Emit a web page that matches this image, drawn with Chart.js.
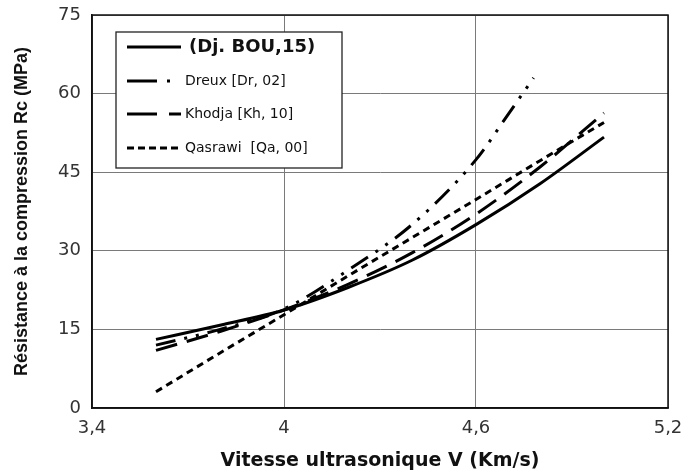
<!DOCTYPE html>
<html>
<head>
<meta charset="utf-8">
<script src="https://cdn.jsdelivr.net/npm/chart.js@4.4.1/dist/chart.umd.min.js"></script>
<style>
  html, body { margin: 0; padding: 0; background: #ffffff; }
  #wrap { width: 685px; height: 472px; }
</style>
</head>
<body>
<div id="wrap"><canvas id="c" width="685" height="472"></canvas></div>
<script>
// ---- data ----
const velocities = [3.6, 3.8, 4.0, 4.2, 4.4, 4.6, 4.8, 5.0];
const bou     = [13.1, 15.8, 18.7, 23.0, 28.2, 35.0, 42.8, 51.7];
const dreuxV  = [3.6, 3.8, 4.0, 4.2, 4.4, 4.6, 4.7, 4.78];
const dreux   = [12.0, 15.0, 18.9, 26.3, 35.0, 47.4, 56.0, 63.0];
const khodja  = [11.0, 14.6, 18.7, 23.6, 29.6, 37.0, 46.0, 56.3];
const qasrawi = [3.1, 10.5, 17.8, 25.2, 32.5, 39.8, 47.2, 54.5];
const seriesLabels = ['(Dj. BOU,15)', 'Dreux [Dr, 02]', 'Khodja [Kh, 10]', 'Qasrawi  [Qa, 00]'];
const xTicks = [3.4, 4.0, 4.6, 5.2];
const yTicks = [0, 15, 30, 45, 60, 75];
const xTitle = 'Vitesse ultrasonique V (Km/s)';
const yTitle = 'Résistance à la compression Rc (MPa)';

const pts = (xs, ys) => xs.map((x, i) => ({ x: x, y: ys[i] }));

const FONT = '"Liberation Sans", Arial, sans-serif';
const WIDE = '"DejaVu Sans", "Liberation Sans", sans-serif';
const legendDash = [[], [30, 10, 3, 100], [30, 12, 12, 100], [7, 4]];

const frameAndLegend = {
  id: 'frameAndLegend',
  afterDatasetsDraw(chart) {
    const ctx = chart.ctx;
    const a = chart.chartArea;
    ctx.save();
    ctx.strokeStyle = '#111';
    ctx.lineWidth = 1.5;
    ctx.strokeRect(a.left, a.top, a.right - a.left, a.bottom - a.top);
    const bx = 116, by = 32, bw = 226, bh = 136;
    ctx.fillStyle = '#fff';
    ctx.fillRect(bx, by, bw, bh);
    ctx.strokeStyle = '#222';
    ctx.lineWidth = 1.3;
    ctx.strokeRect(bx, by, bw, bh);
    const rows = [47, 81, 114, 148];
    chart.data.datasets.forEach((ds, i) => {
      const y = rows[i];
      ctx.beginPath();
      ctx.setLineDash(legendDash[i]);
      ctx.lineWidth = 3.2;
      ctx.strokeStyle = '#000';
      ctx.moveTo(127, y);
      ctx.lineTo(181, y);
      ctx.stroke();
      ctx.setLineDash([]);
      ctx.fillStyle = '#111';
      ctx.textBaseline = 'middle';
      ctx.textAlign = 'left';
      if (i === 0) {
        ctx.font = 'bold 18px ' + WIDE;
        ctx.fillText(ds.label, 189, y);
      } else {
        ctx.font = '14px ' + WIDE;
        ctx.fillText(ds.label, 185, y);
      }
    });
    ctx.restore();
  }
};

new Chart(document.getElementById('c'), {
  type: 'line',
  data: {
    datasets: [
      { label: seriesLabels[0], data: pts(velocities, bou), borderDash: [] },
      { label: seriesLabels[1], data: pts(dreuxV, dreux), borderDash: [20, 9, 3, 9, 3, 9] },
      { label: seriesLabels[2], data: pts(velocities, khodja), borderDash: [22, 10] },
      { label: seriesLabels[3], data: pts(velocities, qasrawi), borderDash: [7, 5] }
    ].map(d => Object.assign(d, { borderColor: '#000', borderWidth: 3, pointRadius: 0, fill: false, cubicInterpolationMode: 'monotone' }))
  },
  options: {
    responsive: false,
    animation: false,
    layout: { padding: { top: 15, right: 17, left: 0, bottom: 0 } },
    plugins: { legend: { display: false }, tooltip: { enabled: false } },
    scales: {
      x: {
        type: 'linear', min: 3.4, max: 5.2,
        afterBuildTicks: s => { s.ticks = xTicks.map(v => ({ value: v })); },
        afterFit: s => { s.height = 64; s.paddingLeft = 0; s.paddingRight = 0; },
        grid: { color: '#7a7a7a', lineWidth: 1, drawTicks: false },
        border: { color: '#111', width: 1.5 },
        ticks: {
          padding: 10, color: '#333', maxRotation: 0,
          font: { family: WIDE, size: 18 },
          callback: v => String(Math.round(v * 10) / 10).replace('.', ',')
        },
        title: { display: true, text: xTitle, color: '#111', padding: { top: 1, bottom: 0 },
                 font: { family: WIDE, size: 19, weight: 'bold' } }
      },
      y: {
        min: 0, max: 75,
        afterBuildTicks: s => { s.ticks = yTicks.map(v => ({ value: v })); },
        afterFit: s => { s.width = 92; s.paddingTop = 0; s.paddingBottom = 0; },
        grid: { color: '#7a7a7a', lineWidth: 1, drawTicks: false },
        border: { color: '#111', width: 1.5 },
        ticks: { padding: 11, color: '#333', font: { family: WIDE, size: 18 } },
        title: { display: true, text: yTitle, color: '#111', padding: { top: 11, bottom: 0 },
                 font: { family: FONT, size: 18, weight: 'bold' } }
      }
    }
  },
  plugins: [frameAndLegend]
});
</script>
</body>
</html>
